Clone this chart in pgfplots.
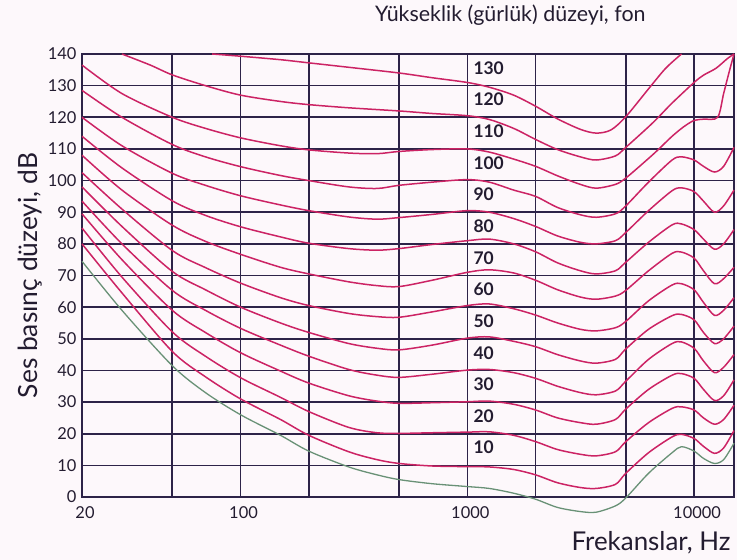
\documentclass[border=0pt]{standalone}
\usepackage{pgfplots}
\pgfplotsset{compat=1.18}
\usepackage{fontspec}
\setmainfont{Lato}

\definecolor{bgcol}{RGB}{253,248,251}
\definecolor{gridcol}{RGB}{45,35,72}
\definecolor{txtcol}{RGB}{35,28,48}
\definecolor{phon}{RGB}{204,35,100}
\definecolor{thresh}{RGB}{105,145,118}

\begin{document}
\begin{tikzpicture}
\fill[bgcol] (0,0) rectangle (737bp,560bp);
\useasboundingbox (0,0) rectangle (737bp,560bp);
\begin{axis}[
  at={(82bp,63bp)}, anchor=south west,
  scale only axis, width=652bp, height=443bp,
  xmode=log, xmin=20, xmax=15000, ymin=0, ymax=140,
  xtick={20,50,100,200,500,1000,2000,5000,10000},
  xticklabels={20,,100,,,1000,,,10000},
  ytick={0,10,...,140},
  grid=major,
  major grid style={gridcol, line width=1.6bp},
  axis line style={gridcol, line width=2bp},
  major tick length=0pt,
  /pgf/number format/assume math mode=true,
  tick label style={font=\fontsize{16.5}{16.5}\selectfont, text=txtcol},
  xticklabel style={yshift=-6bp, xshift=3bp},
  yticklabel style={xshift=-2bp},
  clip=false,
  pc/.style={phon, smooth, line width=1.5bp, mark=none},
  ylabel={Ses basınç düzeyi, dB},
  ylabel style={at={(axis description cs:-0.0795,0.5)}, anchor=center,
    font=\fontsize{26.5}{26.5}\selectfont, text=txtcol},
  xlabel={Frekanslar, Hz},
  xlabel style={at={(axis description cs:1.0,-0.104)}, anchor=east,
    font=\fontsize{26}{26}\selectfont, text=txtcol},
  title={Yükseklik (gürlük) düzeyi, fon},
  title style={at={(axis description cs:0.657,1.074)}, anchor=center,
    font=\fontsize{21.5}{21.5}\selectfont, text=txtcol},
]
% hearing threshold
\addplot[thresh, smooth, line width=1.3bp, mark=none] coordinates {
 (20,74.5) (30,59) (50,41.5) (70,33) (100,26) (150,19.5) (200,14.5) (300,9.5)
 (400,7) (500,5.5) (700,4.2) (1000,3.3) (1250,2.7) (1600,1.2) (2000,-0.7)
 (2500,-3.3) (3150,-4.6) (3700,-4.8) (4500,-2.8) (5000,-0.3) (6300,7.5)
 (8000,14) (8800,15.9) (10000,14.5) (11000,12.2) (12300,10.6) (13500,11.8) (15000,17)};
% 10 phon
\addplot[pc] coordinates {
 (20,80) (30,64.5) (50,46) (70,38) (100,31) (150,24.5) (200,19.5) (300,14.3)
 (400,11.8) (500,10.6) (700,9.8) (1000,9.6) (1250,9.5) (1600,8.7) (2000,7)
 (2500,4.5) (3150,3) (3700,2.7) (4500,4) (5000,7.5) (6300,14) (8000,19)
 (8800,19.8) (10000,18.5) (11000,16) (12300,13.8) (13500,15.5) (15000,21)};
% 20 phon
\addplot[pc] coordinates {
 (20,85) (30,69.5) (50,52.2) (70,44.5) (100,37.7) (150,31.5) (200,27) (300,22)
 (400,20.3) (500,20.1) (700,20.3) (1000,20.5) (1250,20.6) (1600,19.5) (2000,17.5)
 (2500,15) (3150,13.5) (3700,13) (4500,14.3) (5000,17.5) (6300,23.5) (8000,28)
 (8800,28.5) (10000,27.5) (11000,25) (12300,23) (13500,24.5) (15000,29)};
% 30 phon
\addplot[pc] coordinates {
 (20,89.5) (30,75) (50,59) (70,52) (100,45.6) (150,39.8) (200,36) (300,32)
 (400,30.3) (500,29.6) (700,29.8) (1000,30.1) (1250,30.3) (1600,29.3) (2000,27.5)
 (2500,25) (3150,23.5) (3700,23) (4500,24.5) (5000,27.8) (6300,34) (8000,38.5)
 (8800,39) (10000,37.5) (11000,34) (12300,30.5) (13500,32) (15000,37)};
% 40 phon
\addplot[pc] coordinates {
 (20,93.5) (30,80) (50,65.3) (70,59) (100,53.3) (150,48) (200,44.5) (300,40.3)
 (400,38.5) (500,37.8) (700,38.8) (1000,40.1) (1250,40.3) (1600,39.3) (2000,37.5)
 (2500,35) (3150,33) (3700,32.3) (4500,33.5) (5000,36.6) (6300,43.5) (8000,48.5)
 (8800,49) (10000,47) (11000,43) (12300,39.3) (13500,41) (15000,45)};
% 50 phon
\addplot[pc] coordinates {
 (20,98) (30,85.5) (50,71.3) (70,65.5) (100,60) (150,55) (200,52) (300,48.5)
 (400,47) (500,46.5) (700,48) (1000,50.2) (1250,50.6) (1600,49.2) (2000,47.5)
 (2500,45) (3150,43) (3700,42.3) (4500,43.5) (5000,46.8) (6300,53) (8000,57.3)
 (8800,57.7) (10000,56) (11000,52) (12300,48.5) (13500,50) (15000,54)};
% 60 phon
\addplot[pc] coordinates {
 (20,102.5) (30,91) (50,77.9) (70,72.5) (100,67.6) (150,63) (200,60.5) (300,58)
 (400,57) (500,56.8) (700,58.5) (1000,60.5) (1250,61) (1600,59.5) (2000,57.5)
 (2500,55) (3150,53) (3700,52.5) (4500,53.5) (5000,55.5) (6300,62) (8000,67)
 (8800,67.4) (10000,65.5) (11000,61.5) (12300,57.4) (13500,59) (15000,63)};
% 70 phon
\addplot[pc] coordinates {
 (20,108) (30,97) (50,85.9) (70,80.8) (100,76.7) (150,72.6) (200,70.5) (300,68)
 (400,66.8) (500,66.5) (700,68.5) (1000,71) (1250,71.8) (1600,70.8) (2000,68.5)
 (2500,65.5) (3150,63.2) (3700,62.5) (4500,63.5) (5000,65.3) (6300,71.5) (8000,77)
 (8800,77.4) (10000,75.5) (11000,71.5) (12300,67.4) (13500,69) (15000,72.6)};
% 80 phon
\addplot[pc] coordinates {
 (20,114) (30,104) (50,93.6) (70,89) (100,85.4) (150,82.2) (200,80.2) (300,78.5)
 (400,78) (500,78.5) (700,79.8) (1000,81) (1250,81.5) (1600,80) (2000,77.5)
 (2500,74) (3150,71.5) (3700,70.5) (4500,71.5) (5000,74.2) (6300,80.5) (8000,86)
 (8800,86.3) (10000,84.5) (11000,81.5) (12300,78.3) (13500,80) (15000,84.5)};
% 90 phon
\addplot[pc] coordinates {
 (20,120) (30,111) (50,102.3) (70,98.5) (100,95.2) (150,92.3) (200,90.5) (300,88.5)
 (400,87.8) (500,88.3) (700,89.3) (1000,90.5) (1250,90) (1600,88) (2000,85.5)
 (2500,82.5) (3150,80.5) (3700,80) (4500,81) (5000,83.6) (6300,90.5) (8000,96.8)
 (8800,97.7) (10000,96.5) (11000,93.5) (12300,90) (13500,92) (15000,97)};
% 100 phon
\addplot[pc] coordinates {
 (20,128.5) (30,120) (50,111.4) (70,107.5) (100,104.4) (150,101.6) (200,100) (300,98)
 (400,97.5) (500,98.5) (700,99.5) (1000,100.3) (1250,99.5) (1600,97) (2000,95)
 (2500,91.5) (3150,89.2) (3700,88.4) (4500,89.5) (5000,92) (6300,99.5) (8000,106.5)
 (8800,107.5) (10000,106.5) (11000,104.5) (12300,102.7) (13500,104.5) (15000,110.5)};
% 110 phon
\addplot[pc] coordinates {
 (20,136.5) (30,127.5) (50,120) (70,116.5) (100,113.5) (150,111) (200,109.7) (300,108.7)
 (400,108.5) (500,109.2) (700,109.8) (1000,110) (1250,109) (1600,106.8) (2000,104.5)
 (2500,101.5) (3150,98.8) (3700,97.6) (4500,98.8) (5000,100.8) (6300,107) (7000,110)
 (8000,114) (9000,117) (10000,119) (11000,119.4) (12700,120) (13500,127.5) (14300,134.5) (15000,140)};
% 120 phon
\addplot[pc] coordinates {
 (30,140) (40,136.5) (50,133.4) (70,130) (100,127) (150,125) (200,124) (300,123)
 (500,122) (700,121.2) (1000,120.5) (1250,119.3) (1600,116.5) (2000,113) (2500,109.8)
 (3150,107.5) (3700,106.5) (4500,107.8) (5000,110.5) (6300,117) (7000,120.2) (8000,124.5)
 (10000,131) (11000,133.3) (12500,135.5) (14000,138.5) (15000,140)};
% 130 phon
\addplot[pc] coordinates {
 (75,140) (100,139.3) (150,138.2) (200,137.2) (300,135.8) (500,134) (700,132.5)
 (1000,131) (1250,129.5) (1600,127) (2000,123.5) (2500,119.5) (3150,116.2) (3700,115)
 (4300,116) (5000,120.2) (6300,129) (7500,135.5) (8800,140)};

% loudness level labels
\begin{scope}[every node/.style={anchor=west, inner sep=0pt, xshift=6bp,
    font=\fontsize{17.5}{17.5}\selectfont\bfseries, text=txtcol}]
\node at (axis cs:1000,135.6) {130};
\node at (axis cs:1000,125.6) {120};
\node at (axis cs:1000,115.6) {110};
\node at (axis cs:1000,105.6) {100};
\node at (axis cs:1000,95.6) {90};
\node at (axis cs:1000,85.6) {80};
\node at (axis cs:1000,75.6) {70};
\node at (axis cs:1000,65.6) {60};
\node at (axis cs:1000,55.6) {50};
\node at (axis cs:1000,45.6) {40};
\node at (axis cs:1000,35.6) {30};
\node at (axis cs:1000,25.6) {20};
\node at (axis cs:1000,15.6) {10};
\end{scope}
\end{axis}
\end{tikzpicture}
\end{document}
